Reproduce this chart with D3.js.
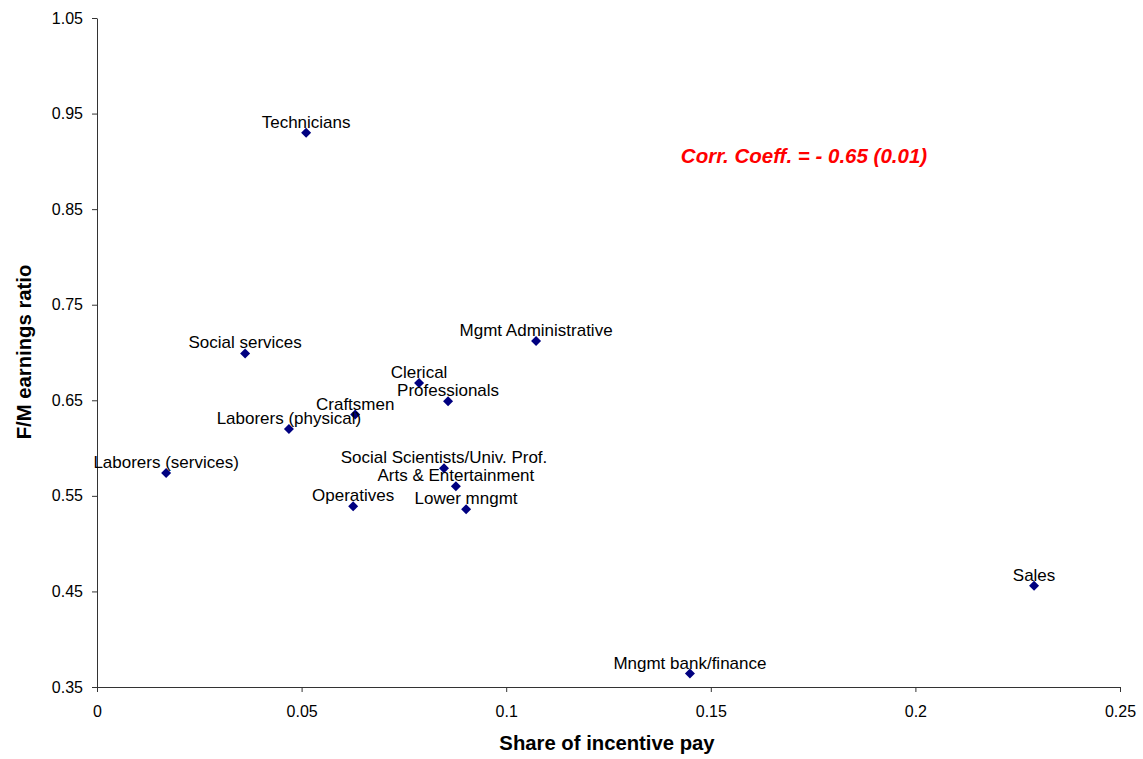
<!DOCTYPE html>
<html>
<head>
<meta charset="utf-8">
<script src="https://cdn.jsdelivr.net/npm/d3@7"></script>
<style>
  body { margin: 0; background: #fff; }
  svg { display: block; font-family: "Liberation Sans", Arial, sans-serif; }
</style>
</head>
<body>
<svg id="chart" width="1143" height="759"></svg>
<script>
const occupations = ["Technicians", "Social services", "Mgmt Administrative", "Clerical", "Professionals",
  "Craftsmen", "Laborers (physical)", "Laborers (services)", "Social Scientists/Univ. Prof.",
  "Arts & Entertainment", "Operatives", "Lower mngmt", "Sales", "Mngmt bank/finance"];
const incentiveShare = [0.0511, 0.0362, 0.1073, 0.0787, 0.0858, 0.0631, 0.0469, 0.0169, 0.0848, 0.0877, 0.0626, 0.0902, 0.229, 0.1449];
const fmRatio = [0.930, 0.699, 0.712, 0.668, 0.649, 0.635, 0.620, 0.574, 0.579, 0.560, 0.539, 0.536, 0.456, 0.364];
const xTicks = [0, 0.05, 0.1, 0.15, 0.2, 0.25];
const yTicks = [0.35, 0.45, 0.55, 0.65, 0.75, 0.85, 0.95, 1.05];
const annotation = "Corr. Coeff. = - 0.65 (0.01)";

const svg = d3.select("#chart");
const x = d3.scaleLinear().domain([0, 0.25]).range([97, 1120]);
const y = d3.scaleLinear().domain([0.35, 1.05]).range([687, 18]);

const xAxis = svg.append("g").attr("transform", "translate(0,687)")
  .call(d3.axisBottom(x).tickValues(xTicks).tickSize(5).tickPadding(14).tickFormat(d => String(d)).tickSizeOuter(0));
const yAxis = svg.append("g").attr("transform", "translate(97,0)")
  .call(d3.axisLeft(y).tickValues(yTicks).tickSize(5).tickPadding(9).tickFormat(d3.format(".2f")).tickSizeOuter(0));
[xAxis, yAxis].forEach(g => {
  g.selectAll("path, line").attr("stroke", "#333").attr("stroke-width", 1);
  g.selectAll("text").attr("font-size", 16).attr("fill", "#000").attr("font-family", "Liberation Sans, Arial, sans-serif");
});

svg.append("text").attr("x", 607).attr("y", 750).attr("text-anchor", "middle")
  .attr("font-size", 20.3).attr("font-weight", "bold").text("Share of incentive pay");
svg.append("text").attr("transform", "translate(31,352) rotate(-90)").attr("text-anchor", "middle")
  .attr("font-size", 20.3).attr("font-weight", "bold").text("F/M earnings ratio");

const data = occupations.map((name, i) => ({ name, x: incentiveShare[i], y: fmRatio[i] }));

svg.append("g").selectAll("path").data(data).join("path")
  .attr("d", "M0,-5L5,0L0,5L-5,0Z")
  .attr("transform", d => `translate(${x(d.x)},${y(d.y)})`)
  .attr("fill", "#000080");

svg.append("g").selectAll("text").data(data).join("text")
  .attr("x", d => x(d.x)).attr("y", d => y(d.y) - 5)
  .attr("text-anchor", "middle").attr("font-size", 17).attr("fill", "#000")
  .text(d => d.name);

svg.append("text").attr("x", 804).attr("y", 163).attr("text-anchor", "middle")
  .attr("font-size", 20.5).attr("font-weight", "bold").attr("font-style", "italic")
  .attr("fill", "#ff0000").text(annotation);
</script>
</body>
</html>
